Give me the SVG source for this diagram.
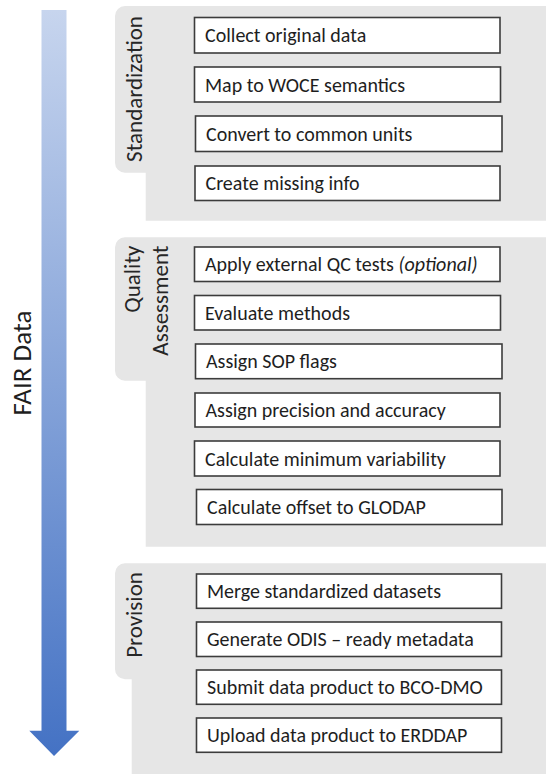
<svg xmlns="http://www.w3.org/2000/svg" width="546" height="774" viewBox="0 0 546 774">
  <style>
    .panel { fill: #e6e6e6; }
    .box { fill: #ffffff; stroke: #3c3c3c; stroke-width: 1.6; }
    .t { font-family: Carlito, Lato, "Open Sans", sans-serif; font-size: 20px; fill: #1e1e1e; }
    .lbl { font-family: Carlito, Lato, "Open Sans", sans-serif; font-size: 23px; fill: #262626; }
    .fair { font-family: Carlito, Lato, "Open Sans", sans-serif; font-size: 27px; font-weight: 300; fill: #1e1e1e; }
  </style>
  <defs>
    <linearGradient id="arrowGrad" gradientUnits="userSpaceOnUse" x1="0" y1="10" x2="0" y2="756">
      <stop offset="0" stop-color="#c7d5ee"/>
      <stop offset="1" stop-color="#4472c4"/>
    </linearGradient>
  </defs>

  <g id="fair-data-arrow">
    <path d="M41.5 10 H66.5 V730.7 H79.3 L54 756 L29.3 730.7 H41.5 Z" fill="url(#arrowGrad)"/>
    <text class="fair" transform="translate(30.5,363) rotate(-90)" text-anchor="middle">FAIR Data</text>
  </g>

  <g id="standardization">
    <path class="panel" d="M125 6 H546 V220.7 H145.7 V172.7 H125 A10 10 0 0 1 115 162.7 V16 A10 10 0 0 1 125 6 Z"/>
    <text class="lbl" transform="translate(141.5,89) rotate(-90)" text-anchor="middle">Standardization</text>
  </g>
  <g id="collect-original-data">
    <rect class="box" x="194.5" y="17.5" width="305.5" height="35.5"/>
    <text class="t" x="205" y="42.2">Collect original data</text>
  </g>
  <g id="map-to-woce">
    <rect class="box" x="194.5" y="67" width="306" height="35"/>
    <text class="t" x="205" y="91.5">Map to WOCE semantics</text>
  </g>
  <g id="convert-units">
    <rect class="box" x="195.5" y="116" width="306.5" height="35.5"/>
    <text class="t" x="206" y="140.7">Convert to common units</text>
  </g>
  <g id="create-missing-info">
    <rect class="box" x="195" y="166" width="305" height="34.5"/>
    <text class="t" x="205.5" y="190.2">Create missing info</text>
  </g>

  <g id="quality-assessment">
    <path class="panel" d="M125 237.3 H546 V546.7 H145.7 V380.7 H125 A10 10 0 0 1 115 370.7 V247.3 A10 10 0 0 1 125 237.3 Z"/>
    <text class="lbl" transform="translate(140,245.5) rotate(-90)" text-anchor="end">Quality</text>
    <text class="lbl" transform="translate(168,245.5) rotate(-90)" text-anchor="end">Assessment</text>
  </g>
  <g id="apply-external-qc">
    <rect class="box" x="194.5" y="247" width="305.5" height="34.5"/>
    <text class="t" x="205" y="271.2">Apply external QC tests <tspan font-style="italic">(optional)</tspan></text>
  </g>
  <g id="evaluate-methods">
    <rect class="box" x="194.5" y="295.5" width="306" height="34.5"/>
    <text class="t" x="205" y="319.7">Evaluate methods</text>
  </g>
  <g id="assign-sop-flags">
    <rect class="box" x="195.5" y="344" width="306.5" height="34.7"/>
    <text class="t" x="206" y="368.3">Assign SOP flags</text>
  </g>
  <g id="assign-precision-accuracy">
    <rect class="box" x="195" y="393" width="305" height="34"/>
    <text class="t" x="205.5" y="417">Assign precision and accuracy</text>
  </g>
  <g id="calc-min-variability">
    <rect class="box" x="194.5" y="441" width="305.5" height="35"/>
    <text class="t" x="205" y="465.5">Calculate minimum variability</text>
  </g>
  <g id="calc-offset-glodap">
    <rect class="box" x="196.5" y="489.5" width="305.5" height="35"/>
    <text class="t" x="207" y="514">Calculate offset to GLODAP</text>
  </g>

  <g id="provision">
    <path class="panel" d="M125 563.3 H546 V774 H131.7 V679.3 H125 A10 10 0 0 1 115 669.3 V573.3 A10 10 0 0 1 125 563.3 Z"/>
    <text class="lbl" transform="translate(141.5,615) rotate(-90)" text-anchor="middle">Provision</text>
  </g>
  <g id="merge-datasets">
    <rect class="box" x="196.5" y="574" width="305" height="34.3"/>
    <text class="t" x="207" y="598.2">Merge standardized datasets</text>
  </g>
  <g id="generate-odis-metadata">
    <rect class="box" x="196.5" y="622" width="305" height="34.5"/>
    <text class="t" x="207" y="646.3">Generate ODIS – ready metadata</text>
  </g>
  <g id="submit-bco-dmo">
    <rect class="box" x="196.5" y="670" width="305" height="34.3"/>
    <text class="t" x="207" y="694.2">Submit data product to BCO-DMO</text>
  </g>
  <g id="upload-erddap">
    <rect class="box" x="196.5" y="718" width="305" height="34.3"/>
    <text class="t" x="207" y="742.2">Upload data product to ERDDAP</text>
  </g>
</svg>
